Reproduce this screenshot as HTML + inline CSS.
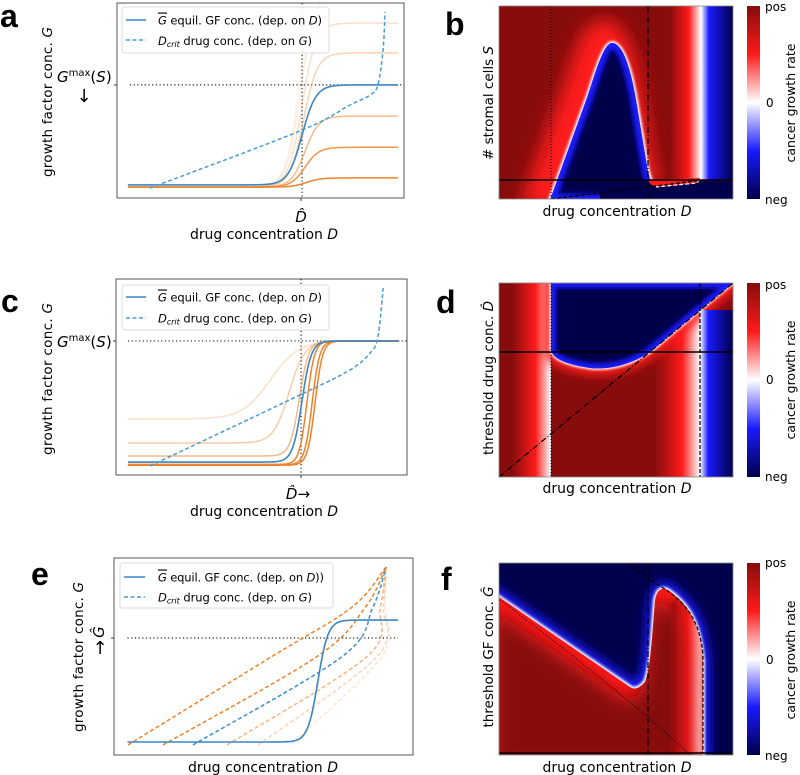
<!DOCTYPE html>
<html><head><meta charset="utf-8">
<style>
html,body{margin:0;padding:0;background:#fff;}
svg{display:block;font-family:"DejaVu Sans","Liberation Sans",sans-serif;}
.it{font-style:italic;}
</style></head>
<body>
<svg id="fig" width="800" height="775" viewBox="0 0 800 775" xmlns="http://www.w3.org/2000/svg">
<defs>
  <linearGradient id="cbar" x1="0" y1="0" x2="0" y2="1">
    <stop offset="0" stop-color="#870c0c"/><stop offset="0.25" stop-color="#ff1a1a"/>
    <stop offset="0.5" stop-color="#ffffff"/><stop offset="0.75" stop-color="#1a1aff"/>
    <stop offset="1" stop-color="#00004c"/>
  </linearGradient>
  <linearGradient id="toWhite" x1="0" y1="0" x2="1" y2="0">
    <stop offset="0" stop-color="#870c0c"/><stop offset="0.6" stop-color="#ff1a1a"/><stop offset="1" stop-color="#ffffff"/>
  </linearGradient>
  <linearGradient id="fromWhite" x1="0" y1="0" x2="1" y2="0">
    <stop offset="0" stop-color="#ffffff"/><stop offset="0.25" stop-color="#1a1aff"/><stop offset="1" stop-color="#00004c"/>
  </linearGradient>
  <filter id="b1" x="-20%" y="-20%" width="140%" height="140%"><feGaussianBlur stdDeviation="1.2"/></filter>
  <filter id="b2" x="-20%" y="-20%" width="140%" height="140%"><feGaussianBlur stdDeviation="2.5"/></filter>
  <filter id="b5" x="-30%" y="-30%" width="160%" height="160%"><feGaussianBlur stdDeviation="5"/></filter>
  <filter id="b9" x="-40%" y="-40%" width="180%" height="180%"><feGaussianBlur stdDeviation="9"/></filter>
  <clipPath id="clipA"><rect x="117" y="3" width="287" height="195"/></clipPath>
  <clipPath id="clipC"><rect x="116" y="279" width="291" height="196"/></clipPath>
  <clipPath id="clipE"><rect x="114" y="558" width="299" height="197"/></clipPath>
  <clipPath id="clipB"><rect x="499" y="6" width="234" height="193"/></clipPath>
  <clipPath id="clipD"><rect x="499" y="283" width="234" height="194"/></clipPath>
  <clipPath id="clipF"><rect x="499" y="563" width="234" height="192"/></clipPath>
  <clipPath id="humpClip"><path d="M550,200 L588,95 C596,70 604,43 612,43 C622,43 630,65 636,100 L648,172 L651,182 L651,200 Z"/></clipPath>
  <clipPath id="nClip"><path d="M551,283 L551,350 C553,360 570,365 590,368 C610,370 630,365 650,352 L700,310 L733,283 Z"/></clipPath>
  <clipPath id="rClip"><path d="M499,597 L630,687 Q636,692 645,682 C650,670 652,640 655,600 Q658,585 668,590 C690,605 700,625 703,660 L703,755 L499,755 Z"/></clipPath>
</defs>

<g font-family="Liberation Sans, sans-serif" font-weight="bold" font-size="32">
  <text x="0" y="27">a</text>
  <text x="445" y="35">b</text>
  <text x="1" y="312">c</text>
  <text x="436" y="313">d</text>
  <text x="31" y="585">e</text>
  <text x="441" y="590">f</text>
</g>

<g id="panelA">
  <rect x="117" y="3" width="287" height="195" fill="none" stroke="#555" stroke-width="1"/>
  <line x1="114" y1="85" x2="117" y2="85" stroke="#333"/>
  <line x1="301" y1="198" x2="301" y2="201" stroke="#333"/>
  <text transform="translate(52,102) rotate(-90)" text-anchor="middle" font-size="13.5" textLength="150">growth factor conc. <tspan class="it">G</tspan></text>
  <text x="57" y="82" font-size="15"><tspan class="it">G</tspan><tspan font-size="10" dy="-6">max</tspan><tspan dy="6">(</tspan><tspan class="it">S</tspan>)</text>
  <text x="84" y="102" text-anchor="middle" font-size="18">↓</text>
  <text x="301" y="222" text-anchor="middle" font-size="15" class="it">D̂</text>
  <text x="264" y="239" text-anchor="middle" font-size="14" textLength="148">drug concentration <tspan class="it">D</tspan></text>
  <g id="plotA" clip-path="url(#clipA)"></g>
  <g>
    <rect x="122" y="7" width="207" height="46" rx="3" fill="#fff" fill-opacity="0.85" stroke="#ddd"/>
    <line x1="126" y1="20" x2="146" y2="20" stroke="#3b86c2" stroke-width="1.5"/>
    <text x="158" y="24.5" font-size="11.5" textLength="164"><tspan class="it" text-decoration="overline">G</tspan> equil. GF conc. (dep. on <tspan class="it">D</tspan>)</text>
    <line x1="126" y1="40" x2="146" y2="40" stroke="#4a9ad6" stroke-width="1.5" stroke-dasharray="4,2.5"/>
    <text x="158" y="45" font-size="11.5" textLength="154"><tspan class="it">D<tspan font-size="8" dy="2">crit</tspan></tspan><tspan dy="-2"> drug conc. (dep. on </tspan><tspan class="it">G</tspan>)</text>
  </g>
</g>

<g id="panelC">
  <rect x="116" y="279" width="291" height="196" fill="none" stroke="#555" stroke-width="1"/>
  <line x1="113" y1="341" x2="116" y2="341" stroke="#333"/>
  <line x1="301" y1="475" x2="301" y2="478" stroke="#333"/>
  <text transform="translate(52,379) rotate(-90)" text-anchor="middle" font-size="13.5" textLength="152">growth factor conc. <tspan class="it">G</tspan></text>
  <text x="57" y="347" font-size="15"><tspan class="it">G</tspan><tspan font-size="10" dy="-6">max</tspan><tspan dy="6">(</tspan><tspan class="it">S</tspan>)</text>
  <text x="298" y="499" text-anchor="middle" font-size="15"><tspan class="it">D̂</tspan>→</text>
  <text x="264" y="516" text-anchor="middle" font-size="14" textLength="148">drug concentration <tspan class="it">D</tspan></text>
  <g id="plotC" clip-path="url(#clipC)"></g>
  <g>
    <rect x="122" y="285" width="207" height="45" rx="3" fill="#fff" fill-opacity="0.85" stroke="#ddd"/>
    <line x1="126" y1="297" x2="146" y2="297" stroke="#3b86c2" stroke-width="1.5"/>
    <text x="158" y="301.5" font-size="11.5" textLength="164"><tspan class="it" text-decoration="overline">G</tspan> equil. GF conc. (dep. on <tspan class="it">D</tspan>)</text>
    <line x1="126" y1="318" x2="146" y2="318" stroke="#4a9ad6" stroke-width="1.5" stroke-dasharray="4,2.5"/>
    <text x="158" y="322.5" font-size="11.5" textLength="154"><tspan class="it">D<tspan font-size="8" dy="2">crit</tspan></tspan><tspan dy="-2"> drug conc. (dep. on </tspan><tspan class="it">G</tspan>)</text>
  </g>
</g>

<g id="panelE">
  <rect x="114" y="558" width="299" height="197" fill="none" stroke="#555" stroke-width="1"/>
  <line x1="111" y1="638" x2="114" y2="638" stroke="#333"/>
  <text transform="translate(83,657) rotate(-90)" text-anchor="middle" font-size="13.5" textLength="150">growth factor conc. <tspan class="it">G</tspan></text>
  <text transform="translate(104,632) rotate(-90)" text-anchor="middle" font-size="15" class="it">Ĝ</text>
  <text x="100" y="654" text-anchor="middle" font-size="18">↑</text>
  <text x="263" y="772" text-anchor="middle" font-size="14" textLength="150">drug concentration <tspan class="it">D</tspan></text>
  <g id="plotE" clip-path="url(#clipE)"></g>
  <g>
    <rect x="120" y="563" width="213" height="45" rx="3" fill="#fff" fill-opacity="0.85" stroke="#ddd"/>
    <line x1="124" y1="577" x2="145" y2="577" stroke="#3b86c2" stroke-width="1.5"/>
    <text x="158" y="581.5" font-size="11.5" textLength="166"><tspan class="it" text-decoration="overline">G</tspan> equil. GF conc. (dep. on <tspan class="it">D</tspan>))</text>
    <line x1="124" y1="597" x2="145" y2="597" stroke="#4a9ad6" stroke-width="1.5" stroke-dasharray="4,2.5"/>
    <text x="158" y="601.5" font-size="11.5" textLength="154"><tspan class="it">D<tspan font-size="8" dy="2">crit</tspan></tspan><tspan dy="-2"> drug conc. (dep. on </tspan><tspan class="it">G</tspan>)</text>
  </g>
</g>

<g id="panelB">
  <g clip-path="url(#clipB)">
    <rect x="499" y="6" width="234" height="193" fill="#870c0c"/>
    <rect x="670" y="6" width="31" height="174" fill="url(#toWhite)"/>
    <rect x="701" y="6" width="32" height="174" fill="url(#fromWhite)"/>
    <path transform="translate(-9,-8)" d="M550,200 L588,95 C596,70 604,43 612,43 C622,43 630,65 636,100 L648,172 L651,182 L651,200 Z" fill="#ff1a1a" stroke="#ff1a1a" stroke-width="30" filter="url(#b9)"/>
    <path d="M550,200 L588,95 C596,70 604,43 612,43 C622,43 630,65 636,100 L648,172 L651,182 L651,200 Z" fill="#fff" stroke="#fff" stroke-width="4" filter="url(#b1)"/>
    <path d="M550,200 L588,95 C596,70 604,43 612,43 C622,43 630,65 636,100 L648,172 L651,182 L651,200 Z" fill="#1a1aff"/>
    <g clip-path="url(#humpClip)"><path d="M550,200 L588,95 C596,70 604,43 612,43 C622,43 630,65 636,100 L648,172 L651,182 L651,200 Z" fill="#00004c" stroke="#1a1aff" stroke-width="10" filter="url(#b2)"/></g>
    <rect x="600" y="181" width="133" height="19" fill="#00004c"/>
    <path d="M648,180 L700,178 L697,183 L656,187 Q650,185 648,180 Z" fill="#ff1a1a"/>
    <line x1="551" y1="6" x2="551" y2="199" stroke="#000" stroke-width="1" stroke-dasharray="1,2"/>
    <line x1="648" y1="6" x2="648" y2="199" stroke="#000" stroke-width="1.2" stroke-dasharray="6,2,1,2"/>
    <path d="M701,6 L701,177 L697,183 L656,187" fill="none" stroke="#fff" stroke-width="1.2" stroke-dasharray="4,2"/>
    <line x1="551" y1="199" x2="703" y2="180" stroke="#000" stroke-width="1.2" stroke-dasharray="4,2"/>
    <line x1="499" y1="180" x2="733" y2="180" stroke="#000" stroke-width="1.5"/>
  </g>
  <rect x="499" y="6" width="234" height="193" fill="none" stroke="#888" stroke-width="0.8"/>
  <text transform="translate(493,103) rotate(-90)" text-anchor="middle" font-size="13.5"># stromal cells <tspan class="it">S</tspan></text>
  <text x="617" y="216" text-anchor="middle" font-size="14">drug concentration <tspan class="it">D</tspan></text>
  <g>
    <rect x="747" y="6" width="13" height="193" fill="url(#cbar)"/>
    <text x="765" y="11" font-size="12">pos</text><text x="766" y="107" font-size="12">0</text><text x="765" y="204" font-size="12">neg</text>
    <text transform="translate(795,103) rotate(-90)" text-anchor="middle" font-size="12.5">cancer growth rate</text>
  </g>
</g>

<g id="panelD">
  <g clip-path="url(#clipD)">
    <rect x="499" y="283" width="234" height="194" fill="#870c0c"/>
    <rect x="512" y="283" width="39" height="194" fill="url(#toWhite)"/>
    <rect x="655" y="283" width="45" height="194" fill="url(#toWhite)"/>
    <path d="M551,283 L551,350 C553,360 570,365 590,368 C610,370 630,365 650,352 L700,310 L733,283 Z" fill="#ff1a1a" stroke="#ff1a1a" stroke-width="14" filter="url(#b5)"/>
    <path d="M551,283 L551,350 C553,360 570,365 590,368 C610,370 630,365 650,352 L700,310 L733,283 Z" fill="#fff" stroke="#fff" stroke-width="3" filter="url(#b1)"/>
    <path d="M551,283 L551,350 C553,360 570,365 590,368 C610,370 630,365 650,352 L700,310 L733,283 Z" fill="#1a1aff"/>
    <g clip-path="url(#nClip)"><path d="M551,283 L551,350 C553,360 570,365 590,368 C610,370 630,365 650,352 L700,310 L733,283 Z" fill="#00004c" stroke="#1a1aff" stroke-width="8" filter="url(#b2)"/></g>
    <rect x="700" y="310" width="33" height="167" fill="url(#fromWhite)"/>
    <line x1="551" y1="283" x2="551" y2="477" stroke="#000" stroke-width="1" stroke-dasharray="1,2"/>
    <line x1="700" y1="283" x2="700" y2="477" stroke="#000" stroke-width="1.2" stroke-dasharray="4,2"/>
    <line x1="499" y1="477" x2="733" y2="283" stroke="#000" stroke-width="1.2" stroke-dasharray="6,2,1,2"/>
    <line x1="499" y1="352" x2="733" y2="352" stroke="#000" stroke-width="1.5"/>
  </g>
  <rect x="499" y="283" width="234" height="194" fill="none" stroke="#888" stroke-width="0.8"/>
  <text transform="translate(493,378) rotate(-90)" text-anchor="middle" font-size="13.5">threshold drug conc. <tspan class="it">D̂</tspan></text>
  <text x="617" y="493" text-anchor="middle" font-size="14">drug concentration <tspan class="it">D</tspan></text>
  <g>
    <rect x="747" y="283" width="13" height="194" fill="url(#cbar)"/>
    <text x="765" y="289" font-size="12">pos</text><text x="766" y="384" font-size="12">0</text><text x="765" y="481" font-size="12">neg</text>
    <text transform="translate(795,380) rotate(-90)" text-anchor="middle" font-size="12.5">cancer growth rate</text>
  </g>
</g>

<g id="panelF">
  <g clip-path="url(#clipF)">
    <rect x="499" y="563" width="234" height="192" fill="#00004c"/>
    <path d="M499,597 L630,687 Q636,692 645,682 C650,670 652,640 655,600 Q658,585 668,590 C690,605 700,625 703,660 L703,755 L499,755 Z" fill="none" stroke="#1a1aff" stroke-width="14" filter="url(#b5)"/>
    <path d="M499,597 L630,687 Q636,692 645,682 C650,670 652,640 655,600 Q658,585 668,590 C690,605 700,625 703,660 L703,755 L499,755 Z" fill="#fff" stroke="#fff" stroke-width="4" filter="url(#b1)"/>
    <g clip-path="url(#rClip)">
      <rect x="499" y="563" width="234" height="192" fill="#ff1a1a"/>
      <path d="M499,597 L630,687 Q636,692 645,682 C650,670 652,640 655,600 Q658,585 668,590 C690,605 700,625 703,660 L703,755 L499,755 Z" transform="translate(-6,12)" fill="#870c0c" filter="url(#b9)"/>
      <rect x="670" y="600" width="33" height="155" fill="url(#toWhite)" opacity="0.8" filter="url(#b2)"/>
    </g>
    <path d="M500,600 Q620,690 690,755" fill="none" stroke="#000" stroke-width="1" stroke-dasharray="1,2"/>
    <path d="M627,563 L658,585 C685,600 700,620 703,655 L703,753" fill="none" stroke="#000" stroke-width="1.2" stroke-dasharray="4,2"/>
    <line x1="648" y1="563" x2="648" y2="755" stroke="#000" stroke-width="1.2" stroke-dasharray="6,2,1,2"/>
    <line x1="499" y1="753" x2="733" y2="753" stroke="#000" stroke-width="1.5"/>
  </g>
  <rect x="499" y="563" width="234" height="192" fill="none" stroke="#888" stroke-width="0.8"/>
  <text transform="translate(493,657) rotate(-90)" text-anchor="middle" font-size="13.5">threshold GF conc. <tspan class="it">Ĝ</tspan></text>
  <text x="617" y="772" text-anchor="middle" font-size="14">drug concentration <tspan class="it">D</tspan></text>
  <g>
    <rect x="747" y="563" width="13" height="192" fill="url(#cbar)"/>
    <text x="765" y="567" font-size="12">pos</text><text x="766" y="664" font-size="12">0</text><text x="765" y="760" font-size="12">neg</text>
    <text transform="translate(795,660) rotate(-90)" text-anchor="middle" font-size="12.5">cancer growth rate</text>
  </g>
</g>
</svg>

<script>
// panel a
const aDhat = 64.5;
const aGmax = 58;
const aOrangeLevels = [125, 105, 89.7, 74.4, 42, 26, 10.3];
const aOrangeAlpha = [0.12, 0.15, 0.25, 0.35, 0.55, 0.85, 1];
const aOrangeStart = [5.6, 5.6, 5.6, 5.6, 5.6, 5.6, 5.6];
const aOrangeCenter = [64, 64, 64.5, 65, 65.5, 65.5, 66];
const aBlueStart = 6.7;
const aBlueLevel = 58;
const aBlueCenter = 64.5;
const aDcritD = [11.5, 63.8, 81.2, 88.2, 90.9, 92.7, 93.4];
const aDcritG = [5.1, 34.4, 47.7, 52.8, 58, 75.9, 95.4];
// panel c
const cDhat = 63.6;
const cGmax = 68.4;
const cOrangeStart = [28.6, 16.3, 9.7, 5.4, 5.2, 5.0];
const cOrangeCenter = [53, 59.5, 63, 65.6, 67.4, 68.4];
const cOrangeWidth = [4.8, 2.7, 1.6, 1.3, 1.3, 1.3];
const cOrangeAlpha = [0.25, 0.4, 0.55, 1, 1, 1];
const cBlueStart = 6.6;
const cBlueCenter = 63.9;
const cDcritD = [11.7, 63.2, 80.4, 87.3, 90, 91.8];
const cDcritG = [4.6, 40.8, 53.6, 62.2, 70.4, 95.4];
// panel e
const eGhat = 59.4;
const eBlueStart = 6.6;
const eBlueLevel = 68.5;
const eBlueCenter = 68.2;
const eDashStart = [4.7, 16.4, 26.4, 37.8, 48.2, 58.9];
const eDashMid = [52.8, 67.9, 76.3, 84.6, 88, 89.6];
const eDashColor = ['#f0822a', '#f0822a', '#3d8fcf', '#f0822a', '#f0822a', '#f0822a'];
const eDashAlpha = [1, 1, 1, 0.6, 0.35, 0.2];
const eDashEndD = 91;
const eDashEndG = 95.4;
const eDashBaseG = 5.1;

const NS = 'http://www.w3.org/2000/svg';
function axis(x0, x1, y0, y1) {
  return { x: d => x0 + (x1 - x0) * d / 100, y: g => y1 - (y1 - y0) * g / 100 };
}
function sig(d, start, level, c, w) { return start + (level - start) / (1 + Math.exp(-(d - c) / w)); }
function sigPath(ax, start, level, c, w, d0, d1) {
  let s = '';
  for (let i = 0; i <= 200; i++) {
    const d = d0 + (d1 - d0) * i / 200;
    s += (i ? 'L' : 'M') + ax.x(d).toFixed(2) + ',' + ax.y(sig(d, start, level, c, w)).toFixed(2);
  }
  return s;
}
function crPath(pts) {
  let s = 'M' + pts[0][0].toFixed(2) + ',' + pts[0][1].toFixed(2);
  for (let i = 0; i < pts.length - 1; i++) {
    const p0 = pts[Math.max(0, i - 1)], p1 = pts[i], p2 = pts[i + 1], p3 = pts[Math.min(pts.length - 1, i + 2)];
    const c1 = [p1[0] + (p2[0] - p0[0]) / 6, p1[1] + (p2[1] - p0[1]) / 6];
    const c2 = [p2[0] - (p3[0] - p1[0]) / 6, p2[1] - (p3[1] - p1[1]) / 6];
    s += 'C' + c1.join(',') + ' ' + c2.join(',') + ' ' + p2.join(',');
  }
  return s;
}
function mk(parent, tag, attrs) {
  const el = document.createElementNS(NS, tag);
  for (const k in attrs) el.setAttribute(k, attrs[k]);
  parent.appendChild(el);
  return el;
}

(function () {
  const ax = axis(117, 404, 3, 198);
  const g = document.getElementById('plotA');
  let el = mk(g, 'line', { x1: ax.x(4.5), x2: 404, y1: ax.y(aGmax), y2: ax.y(aGmax), stroke: '#222', 'stroke-width': 1.2, 'stroke-dasharray': '1.2,2.5' });
  
  
  el = mk(g, 'line', { x1: ax.x(aDhat), x2: ax.x(aDhat), y1: 3, y2: 198, stroke: '#222', 'stroke-width': 1.2, 'stroke-dasharray': '1.2,2.5' });
  
  
  aOrangeLevels.forEach((lv, i) => {
    const p = mk(g, 'path', { d: sigPath(ax, aOrangeStart[i], lv, aOrangeCenter[i], 2.4, 3.8, 97.9), fill: 'none', stroke: '#f0822a', 'stroke-opacity': aOrangeAlpha[i], 'stroke-width': 1.5 });
    
    
  });
  let p = mk(g, 'path', { d: sigPath(ax, aBlueStart, aBlueLevel, aBlueCenter, 2.4, 3.8, 97.9), fill: 'none', stroke: '#3b86c2', 'stroke-width': 1.6 });
  
  
  p = mk(g, 'path', { d: crPath(aDcritD.map((d, i) => [ax.x(d), ax.y(aDcritG[i])])), fill: 'none', stroke: '#4a9ad6', 'stroke-width': 1.5, 'stroke-dasharray': '4,2.5' });
  
  
})();

(function () {
  const ax = axis(116, 407, 279, 475);
  const g = document.getElementById('plotC');
  let el = mk(g, 'line', { x1: ax.x(4.1), x2: 407, y1: ax.y(cGmax), y2: ax.y(cGmax), stroke: '#222', 'stroke-width': 1.2, 'stroke-dasharray': '1.2,2.5' });
  
  
  el = mk(g, 'line', { x1: ax.x(cDhat), x2: ax.x(cDhat), y1: 279, y2: 475, stroke: '#222', 'stroke-width': 1.2, 'stroke-dasharray': '1.2,2.5' });
  
  
  cOrangeStart.forEach((st, i) => {
    const p = mk(g, 'path', { d: sigPath(ax, st, cGmax, cOrangeCenter[i], cOrangeWidth[i], 4.1, 96.9), fill: 'none', stroke: '#f0822a', 'stroke-opacity': cOrangeAlpha[i], 'stroke-width': 1.5 });
    
    
  });
  let p = mk(g, 'path', { d: sigPath(ax, cBlueStart, cGmax, cBlueCenter, 1.6, 4.1, 96.9), fill: 'none', stroke: '#3b86c2', 'stroke-width': 1.6 });
  
  
  p = mk(g, 'path', { d: crPath(cDcritD.map((d, i) => [ax.x(d), ax.y(cDcritG[i])])), fill: 'none', stroke: '#4a9ad6', 'stroke-width': 1.5, 'stroke-dasharray': '4,2.5' });
  
  
})();

(function () {
  const ax = axis(114, 413, 558, 755);
  const g = document.getElementById('plotE');
  let el = mk(g, 'line', { x1: ax.x(4.5), x2: ax.x(95), y1: ax.y(eGhat), y2: ax.y(eGhat), stroke: '#222', 'stroke-width': 1.2, 'stroke-dasharray': '1.2,2.5' });
  
  
  eDashStart.forEach((st, i) => {
    const mid = eDashMid[i];
    const pts = [[st, eDashBaseG], [mid, 50], [mid + (eDashEndD - mid) * 0.7, 75], [eDashEndD, eDashEndG]];
    const p = mk(g, 'path', { d: crPath(pts.map(q => [ax.x(q[0]), ax.y(q[1])])), fill: 'none', stroke: eDashColor[i], 'stroke-opacity': eDashAlpha[i], 'stroke-width': 1.5, 'stroke-dasharray': '4,2.5' });
    
    
  });
  const p = mk(g, 'path', { d: sigPath(ax, eBlueStart, eBlueLevel, eBlueCenter, 1.7, 4.5, 95), fill: 'none', stroke: '#3b86c2', 'stroke-width': 1.6 });
  
  
})();
</script>
</body></html>
